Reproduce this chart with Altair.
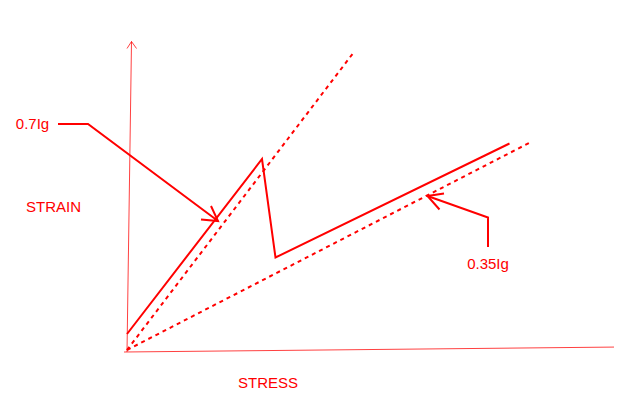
import altair as alt
import pandas as pd

# Diagram coordinates (stress on x, strain on y), origin at the axes corner.
X0, Y0 = 127, 351

# Thin axes with arrowhead on the strain axis
axis_seg = ["yaxis", "yaxis", "yhead", "yhead", "yhead", "xaxis", "xaxis"]
axis_px = [127, 131.5, 127, 131.5, 136.5, 124, 622]
axis_py = [352, 41.5, 48.5, 41.5, 48.5, 352, 347]

# Dotted stiffness lines (0.7Ig and 0.35Ig)
dot_seg = ["d07", "d07", "d035", "d035"]
dot_px = [127, 354, 127, 530]
dot_py = [350, 52, 350, 142.5]

# Solid response curve, leader lines and arrowheads
sol_seg = ["main"] * 4 + ["lead1"] * 3 + ["head1"] * 3 + ["lead2"] * 3 + ["head2"] * 3
sol_px = [127, 262, 275.5, 509.5, 58, 88, 218, 201, 218, 211, 488, 488, 427.5, 444, 427.5, 439.5]
sol_py = [334, 159, 257.5, 143.5, 124, 124, 221, 219.5, 221, 206, 247, 217.5, 196, 193.5, 196, 209.5]

# Labels
labels = ["0.7Ig", "STRAIN", "STRESS", "0.35Ig"]
lab_px = [32.5, 53.5, 268, 488]
lab_py = [124, 207, 383, 263.5]


def frame(segs, pxs, pys):
    return pd.DataFrame({
        "seg": segs,
        "o": list(range(len(segs))),
        "x": [p - X0 for p in pxs],
        "y": [Y0 - p for p in pys],
    })


W, H = 606, 392
xs = alt.Scale(domain=[8 - X0, 8 + W - X0], nice=False, zero=False)
ys = alt.Scale(domain=[Y0 - 8 - H, Y0 - 8], nice=False, zero=False)
X = alt.X("x:Q", scale=xs, axis=None)
Y = alt.Y("y:Q", scale=ys, axis=None)
RED = "#ff0000"

axes = alt.Chart(frame(axis_seg, axis_px, axis_py)).mark_line(
    color=RED, strokeWidth=1, opacity=0.75
).encode(x=X, y=Y, detail="seg:N", order="o:Q")

dots = alt.Chart(frame(dot_seg, dot_px, dot_py)).mark_line(
    color=RED, strokeWidth=2, strokeDash=[4, 4]
).encode(x=X, y=Y, detail="seg:N", order="o:Q")

solid = alt.Chart(frame(sol_seg, sol_px, sol_py)).mark_line(
    color=RED, strokeWidth=2, strokeJoin="miter"
).encode(x=X, y=Y, detail="seg:N", order="o:Q")

text = alt.Chart(pd.DataFrame({
    "t": labels,
    "x": [p - X0 for p in lab_px],
    "y": [Y0 - p for p in lab_py],
})).mark_text(
    color=RED, fontSize=15, font="Liberation Sans", align="center", baseline="middle"
).encode(x=X, y=Y, text="t:N")

chart = alt.layer(axes, dots, solid, text).properties(
    width=W, height=H, padding=0, background="white",
    autosize=alt.AutoSizeParams(type="none")
).configure_view(stroke="transparent", strokeWidth=0)

chart.save("out.html", embed_options={"renderer": "svg", "actions": False})
